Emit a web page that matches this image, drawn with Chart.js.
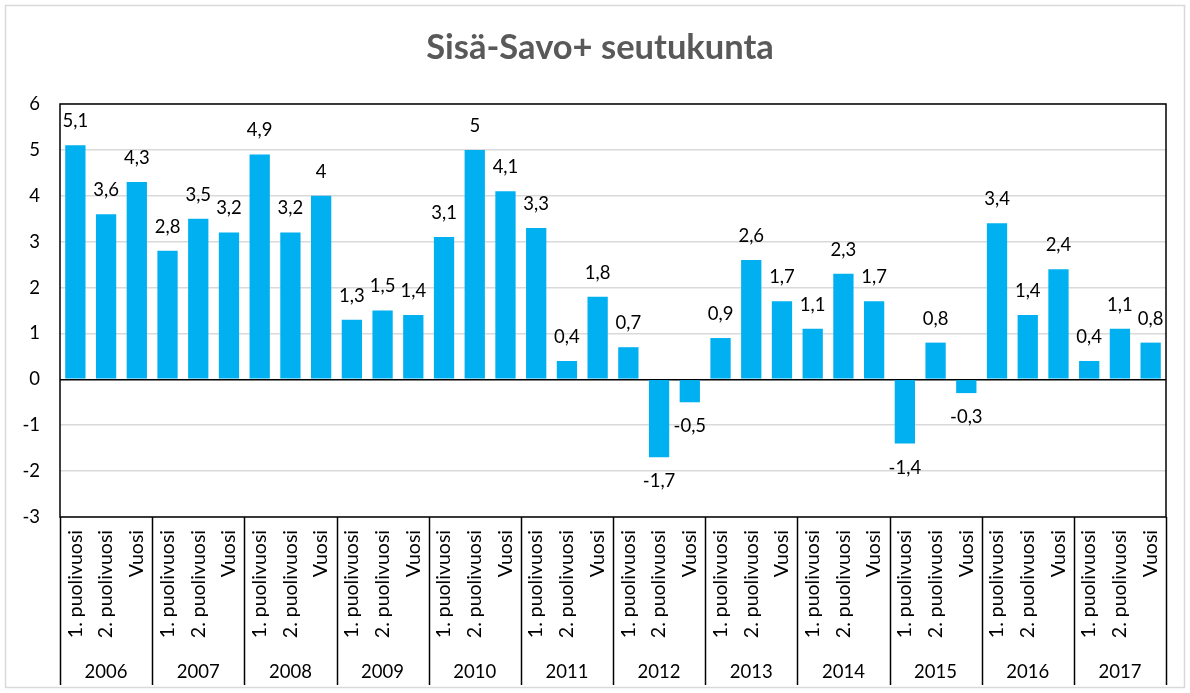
<!DOCTYPE html>
<html>
<head>
<meta charset="utf-8">
<script src="https://cdn.jsdelivr.net/npm/chart.js@4.4.1/dist/chart.umd.min.js"></script>
<style>
  html, body { margin: 0; padding: 0; background: #fff; }
  canvas { display: block; }
</style>
</head>
<body>
<canvas id="sisa-savo" width="1190" height="693"></canvas>
<script>
// Sisä-Savo+ seutukunta, muutos-% puolivuosittain
var title = "Sisä-Savo+ seutukunta";
var years = ["2006", "2007", "2008", "2009", "2010", "2011", "2012", "2013", "2014", "2015", "2016", "2017"];
var periods = ["1. puolivuosi", "2. puolivuosi", "Vuosi"];
var values = [
    5.1, 3.6, 4.3,
    2.8, 3.5, 3.2,
    4.9, 3.2, 4,
    1.3, 1.5, 1.4,
    3.1, 5, 4.1,
    3.3, 0.4, 1.8,
    0.7, -1.7, -0.5,
    0.9, 2.6, 1.7,
    1.1, 2.3, 1.7,
    -1.4, 0.8, -0.3,
    3.4, 1.4, 2.4,
    0.4, 1.1, 0.8
];
var yTicks = [-3, -2, -1, 0, 1, 2, 3, 4, 5, 6];

var labels = [];
years.forEach(function () {
    periods.forEach(function (p) { labels.push(p); });
});

var fontFamily = 'Lato, "Open Sans", sans-serif';
Chart.defaults.font.family = fontFamily;
Chart.defaults.color = '#000';

// outer frame, title, plot border and year separators
var framePlugin = {
    id: 'frame',
    beforeDraw: function (chart) {
        var ctx = chart.ctx;
        ctx.save();
        ctx.fillStyle = '#fff';
        ctx.fillRect(0, 0, chart.width, chart.height);
        ctx.strokeStyle = '#d9d9d9';
        ctx.lineWidth = 1.5;
        ctx.strokeRect(5.5, 5.5, chart.width - 11, chart.height - 11);
        ctx.restore();
    },
    afterDraw: function (chart) {
        var ctx = chart.ctx;
        var area = chart.chartArea;
        var x2 = chart.scales.x2;
        ctx.save();
        ctx.fillStyle = '#595959';
        ctx.font = 'bold 34.5px ' + fontFamily;
        ctx.textAlign = 'center';
        ctx.textBaseline = 'middle';
        ctx.fillText(title, chart.width / 2 + 5, 48);

        ctx.strokeStyle = '#000';
        ctx.lineWidth = 1.5;
        ctx.strokeRect(area.left, area.top, area.right - area.left, area.bottom - area.top);
        for (var g = 0; g <= years.length; g++) {
            var px = Math.round(area.left + (area.right - area.left) * g / years.length) + 0.5;
            ctx.beginPath();
            ctx.moveTo(px, area.bottom);
            ctx.lineTo(px, x2.bottom);
            ctx.stroke();
        }
        ctx.restore();
    }
};

// value labels, comma as decimal separator
var valueLabels = {
    id: 'valueLabels',
    afterDatasetsDraw: function (chart) {
        var ctx = chart.ctx;
        var meta = chart.getDatasetMeta(0);
        ctx.save();
        ctx.font = '18.5px ' + fontFamily;
        ctx.fillStyle = '#000';
        ctx.textAlign = 'center';
        ctx.textBaseline = 'middle';
        meta.data.forEach(function (bar, i) {
            var v = values[i];
            var txt = String(v).replace('.', ',');
            var y = v >= 0 ? bar.y - 24 : bar.y + 24;
            ctx.fillText(txt, bar.x, y);
        });
        ctx.restore();
    }
};

var ctx = document.getElementById("sisa-savo");
var chart = new Chart(ctx, {
    type: 'bar',
    data: {
        labels: labels,
        datasets: [{
            label: "Sisä-Savo+",
            data: values,
            backgroundColor: "#00b0f0",
            barPercentage: 0.66,
            categoryPercentage: 1
        }]
    },
    options: {
        responsive: false,
        animation: false,
        layout: { padding: { left: 0, right: 24, top: 104, bottom: 8 } },
        plugins: {
            legend: { display: false },
            tooltip: { enabled: false },
            title: { display: false }
        },
        scales: {
            x: {
                type: 'category',
                position: 'bottom',
                grid: { display: false, drawTicks: false },
                border: { display: false },
                ticks: {
                    autoSkip: false,
                    minRotation: 90,
                    maxRotation: 90,
                    padding: 13,
                    color: '#000',
                    font: { size: 19.5 }
                },
                afterFit: function (s) { s.height = 128; }
            },
            x2: {
                type: 'category',
                labels: years,
                position: 'bottom',
                offset: true,
                grid: { display: false, drawTicks: false },
                border: { display: false },
                ticks: {
                    autoSkip: false,
                    maxRotation: 0,
                    padding: 16,
                    color: '#000',
                    font: { size: 18.5 }
                },
                afterFit: function (s) { s.height = 40; }
            },
            y: {
                min: yTicks[0],
                max: yTicks[yTicks.length - 1],
                afterBuildTicks: function (s) {
                    s.ticks = yTicks.map(function (v) { return { value: v }; });
                },
                grid: {
                    drawTicks: false,
                    color: function (c) { return c.tick && c.tick.value === 0 ? '#000' : '#d9d9d9'; },
                    lineWidth: 1.5
                },
                border: { display: false },
                ticks: {
                    padding: 20,
                    color: '#000',
                    font: { size: 18.5 }
                },
                afterFit: function (s) { s.width = 60; }
            }
        }
    },
    plugins: [framePlugin, valueLabels]
});
</script>
</body>
</html>
